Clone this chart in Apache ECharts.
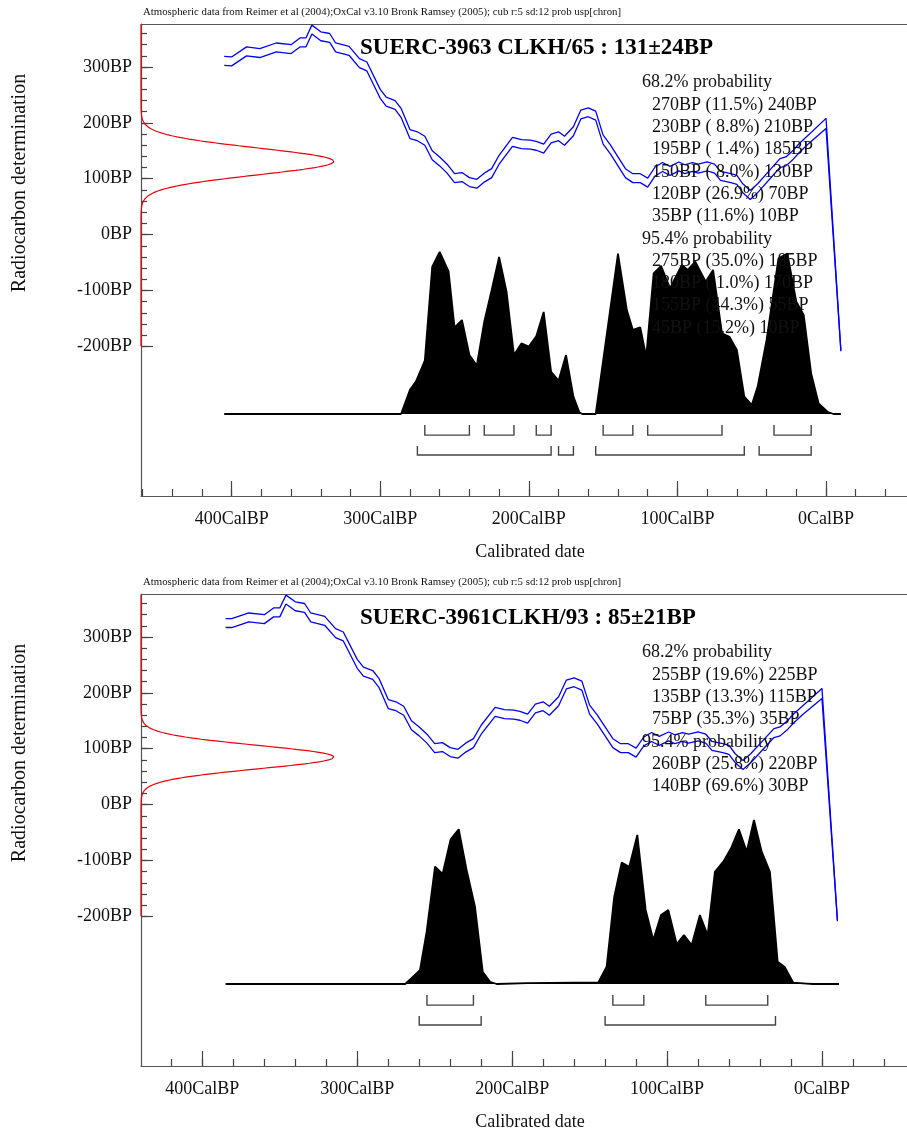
<!DOCTYPE html>
<html><head><meta charset="utf-8">
<script src="https://cdn.jsdelivr.net/npm/echarts@6/dist/echarts.min.js"></script>
<style>html,body{margin:0;padding:0;background:#fff}#c{width:907px;height:1133px}</style>
</head><body><div id="c"></div>
<script>
// ---------- data ----------
const headerText = 'Atmospheric data from Reimer et al (2004);OxCal v3.10 Bronk Ramsey (2005); cub r:5 sd:12 prob usp[chron]';
const titleA = 'SUERC-3963 CLKH/65 : 131±24BP';
const titleB = 'SUERC-3961CLKH/93 : 85±21BP';
const measMeanA = 131, measSdA = 24;
const measMeanB = 85, measSdB = 21;

const xTickValues = [400, 300, 200, 100, 0];
const yTickValues = [-200, -100, 0, 100, 200, 300];

// calibration curve (cal BP, upper / lower 1-sigma edge in BP)
const calYears = [405,400,390,381,370,360,354,350,346,340,334,330,321,314,309,300,296,290,286,280,275,270,265,260,255,250,245,240,235,230,225,220,211,205,199,195,190,185,180,176,170,165,160,155,150,145,135,130,125,120,115,110,105,99,95,90,86,80,75,71,64,60,56,51,46,38,31,27,22,18,12,0,-10];
const calUpper = [319,318,336,333,343,340,352,352,375,363,360,343,337,315,309,260,246,240,226,188,184,176,150,139,126,109,111,102,99,110,118,142,174,170,169,167,162,180,184,176,193,223,227,221,178,160,118,109,109,101,121,129,122,130,125,129,126,130,126,113,109,106,91,79,91,115,136,139,151,163,178,208,-207];
const calLower = [303,302,320,317,327,324,336,336,359,347,344,327,321,299,293,244,230,224,210,172,168,160,134,123,110,93,95,86,83,94,102,126,158,154,153,151,146,164,168,160,177,207,211,205,162,144,102,93,93,85,105,113,106,114,109,113,110,114,110,97,93,90,75,63,75,99,120,123,135,147,162,190,-209];
const calStartB = [385, 333, 317]; // where the lower panel's curve begins

// calibrated probability (relative)
const histYearsA = [405,286,280,276,270,265,260,254,250,245,240,235,230,225,220,215,210,205,200,195,190,185,180,175,170,166,164,155,140,134,130,125,121,116,111,105,97,93,88,81,76,70,65,60,55,50,46,40,32,26,20,15,10,5,-1,-5,-10];
const histProbA = [0,0,0.15,0.2,0.33,0.91,1.0,0.88,0.535,0.58,0.364,0.30,0.57,0.765,0.97,0.755,0.364,0.436,0.416,0.48,0.63,0.26,0.206,0.364,0.107,0.01,0,0,0.99,0.64,0.52,0.535,0.354,0.868,0.914,0.776,0.92,0.889,0.94,0.817,0.889,0.498,0.477,0.395,0.107,0.056,0.169,0.457,0.961,0.99,0.693,0.611,0.251,0.066,0.014,0,0];
const histYearsB = [385,269,259.5,255.2,249.8,244.9,239.7,234.5,229.4,224,219,214.3,210,190.6,144.4,139,134.1,129.3,124.4,119.2,113.8,108.9,103.9,99.2,93.8,89.1,84.1,78.8,73.8,69.1,63.7,58.7,53.6,48.6,43.9,38.9,33.6,28.6,23.9,18.5,9.9,5.8,-11];
const histProbB = [0,0,0.086,0.323,0.724,0.679,0.893,0.955,0.704,0.477,0.076,0.014,0,0.005,0.01,0.107,0.539,0.749,0.724,0.92,0.457,0.272,0.426,0.457,0.247,0.302,0.241,0.426,0.302,0.693,0.755,0.838,0.955,0.817,1.012,0.817,0.693,0.138,0.103,0.008,0.003,0,0];

// ranges (cal BP from, to)
const rangesA68 = [[270,240],[230,210],[195,185],[150,130],[120,70],[35,10]];
const rangesA95 = [[275,185],[180,170],[155,55],[45,10]];
const rangesB68 = [[255,225],[135,115],[75,35]];
const rangesB95 = [[260,220],[140,30]];

const probTextA = ['68.2% probability','270BP (11.5%) 240BP','230BP ( 8.8%) 210BP','195BP ( 1.4%) 185BP','150BP ( 8.0%) 130BP','120BP (26.9%) 70BP','35BP (11.6%) 10BP','95.4% probability','275BP (35.0%) 185BP','180BP ( 1.0%) 170BP','155BP (44.3%) 55BP','45BP (15.2%) 10BP'];
const probTextB = ['68.2% probability','255BP (19.6%) 225BP','135BP (13.3%) 115BP','75BP (35.3%) 35BP','95.4% probability','260BP (25.8%) 220BP','140BP (69.6%) 30BP'];

// ---------- chart ----------
const FONT = "'Liberation Serif','Times New Roman',serif";
const chart = echarts.init(document.getElementById('c'), null, {renderer:'canvas'});

const panels = [
  {top:24, xMax:461, xMin:-54.5, title:titleA, mean:measMeanA, sd:measSdA,
   curveStart:null, hy:histYearsA, hp:histProbA, r68:rangesA68, r95:rangesA95, text:probTextA},
  {top:594, xMax:439.6, xMin:-54.9, title:titleB, mean:measMeanB, sd:measSdB,
   curveStart:calStartB, hy:histYearsB, hp:histProbB, r68:rangesB68, r95:rangesB95, text:probTextB}
];

const grid=[], xAxis=[], yAxis=[], series=[], graphic=[];
const GW = 766, GH = 472;
const minorX = []; for (let v=460; v>=-60; v-=20) minorX.push(v);
const minorY = []; for (let v=-200; v<=360; v+=20) minorY.push(v);
const AX = '#555';

panels.forEach((p, i) => {
  grid.push({left:141, top:p.top, width:GW, height:GH, show:false});
  const xb = i*3, yb = i*3;
  xAxis.push({type:'value', gridIndex:i, min:p.xMin, max:p.xMax, inverse:true, position:'bottom',
    axisLine:{show:true, onZero:false, lineStyle:{color:AX, width:1.2}},
    axisTick:{show:true, inside:true, length:15, customValues:xTickValues, lineStyle:{color:'#444', width:1.2}},
    axisLabel:{show:true, customValues:xTickValues, formatter:'{value}CalBP', fontFamily:FONT, fontSize:18, color:'#111', margin:14},
    splitLine:{show:false}});
  xAxis.push({type:'value', gridIndex:i, min:p.xMin, max:p.xMax, inverse:true, position:'bottom',
    axisLine:{show:false, onZero:false}, axisLabel:{show:false}, splitLine:{show:false},
    axisTick:{show:true, inside:true, length:7, customValues:minorX, lineStyle:{color:'#444', width:1.2}}});
  // hidden scale for the measurement curve; its line draws the frame's top edge
  xAxis.push({type:'value', gridIndex:i, min:0, max:GW/193, position:'top',
    axisLine:{show:true, onZero:false, lineStyle:{color:AX, width:1.2}},
    axisTick:{show:false}, axisLabel:{show:false}, splitLine:{show:false}});

  yAxis.push({type:'value', gridIndex:i, min:-468, max:377, position:'left',
    axisLine:{show:true, onZero:false, lineStyle:{color:AX, width:1.2}},
    axisTick:{show:true, inside:true, length:12, customValues:yTickValues, lineStyle:{color:'#444', width:1.2}},
    axisLabel:{show:true, customValues:yTickValues, formatter:'{value}BP', fontFamily:FONT, fontSize:18, color:'#111', margin:9},
    splitLine:{show:false}});
  yAxis.push({type:'value', gridIndex:i, min:-468, max:377, position:'left',
    axisLine:{show:false, onZero:false}, axisLabel:{show:false}, splitLine:{show:false},
    axisTick:{show:true, inside:true, length:6, customValues:minorY, lineStyle:{color:'#444', width:1.2}}});
  yAxis.push({type:'value', gridIndex:i, min:-0.506, max:2.407, show:false, position:'left', axisLine:{onZero:false}});

  // red measurement distribution
  const red = [];
  for (let y=-200; y<=376; y+=1) red.push([Math.exp(-Math.pow(y-p.mean,2)/(2*p.sd*p.sd)), y]);
  series.push({type:'line', xAxisIndex:xb+2, yAxisIndex:yb, data:red, showSymbol:false, symbol:'none',
    lineStyle:{color:'#e8000b', width:1.2}, clip:false, z:5, animation:false});

  // calibration curve
  const up=[], lo=[];
  if (p.curveStart) { up.push([p.curveStart[0], p.curveStart[1]]); lo.push([p.curveStart[0], p.curveStart[2]]); }
  calYears.forEach((yr, k) => {
    if (p.curveStart && yr > p.curveStart[0]) return;
    up.push([yr, calUpper[k]]); lo.push([yr, calLower[k]]);
  });
  [up, lo].forEach(d => series.push({type:'line', xAxisIndex:xb, yAxisIndex:yb, data:d, symbol:'none',
    lineStyle:{color:'#0000ff', width:1.3}, z:3, animation:false}));

  // probability distribution
  series.push({type:'line', xAxisIndex:xb, yAxisIndex:yb+2, data:p.hy.map((yr,k)=>[yr, p.hp[k]]), symbol:'none',
    lineStyle:{color:'#000', width:1.8}, areaStyle:{color:'#000', opacity:1}, z:2, animation:false});

  // range brackets
  const br = p.r68.map(r=>[r[0], r[1], 0]).concat(p.r95.map(r=>[r[0], r[1], 1]));
  series.push({type:'custom', xAxisIndex:xb, yAxisIndex:yb+2, data:br, animation:false, z:4,
    renderItem:(params, api) => {
      const row = api.value(2);
      const base = row === 0 ? -0.13 : -0.253;
      const tip = row === 0 ? -0.068 : -0.198;
      const a1 = api.coord([api.value(0), tip]), a2 = api.coord([api.value(0), base]);
      const b2 = api.coord([api.value(1), base]), b1 = api.coord([api.value(1), tip]);
      return {type:'polyline', shape:{points:[a1,a2,b2,b1]}, style:{stroke:'#444', lineWidth:1.4, fill:null}};
    }});

  // texts
  graphic.push({type:'text', x:143, y:p.top-12, z:100, scaleX:1.08, style:{text:headerText, font:'10px '+FONT, fill:'#111', textVerticalAlign:'middle'}});
  graphic.push({type:'text', x:360, y:p.top+24, z:100, style:{text:p.title, font:'bold 23px '+FONT, fill:'#000', textVerticalAlign:'middle'}});
  graphic.push({type:'text', x:20, y:p.top+159, z:100, rotation:Math.PI/2, style:{text:'Radiocarbon determination', font:'20px '+FONT, fill:'#111', textAlign:'center', textVerticalAlign:'middle'}});
  graphic.push({type:'text', x:530, y:p.top+528, z:100, style:{text:'Calibrated date', font:'18px '+FONT, fill:'#111', textAlign:'center', textVerticalAlign:'middle'}});
  p.text.forEach((t, k) => {
    const head = t.indexOf('probability') >= 0;
    graphic.push({type:'text', x: head ? 642 : 652, y:p.top + 58.7 + k*22.3, z:100,
      style:{text:t, font:'18px '+FONT, fill:'#111', textVerticalAlign:'middle'}});
  });
});

chart.setOption({animation:false, backgroundColor:'#fff', grid, xAxis, yAxis, series, graphic});
</script></body></html>
